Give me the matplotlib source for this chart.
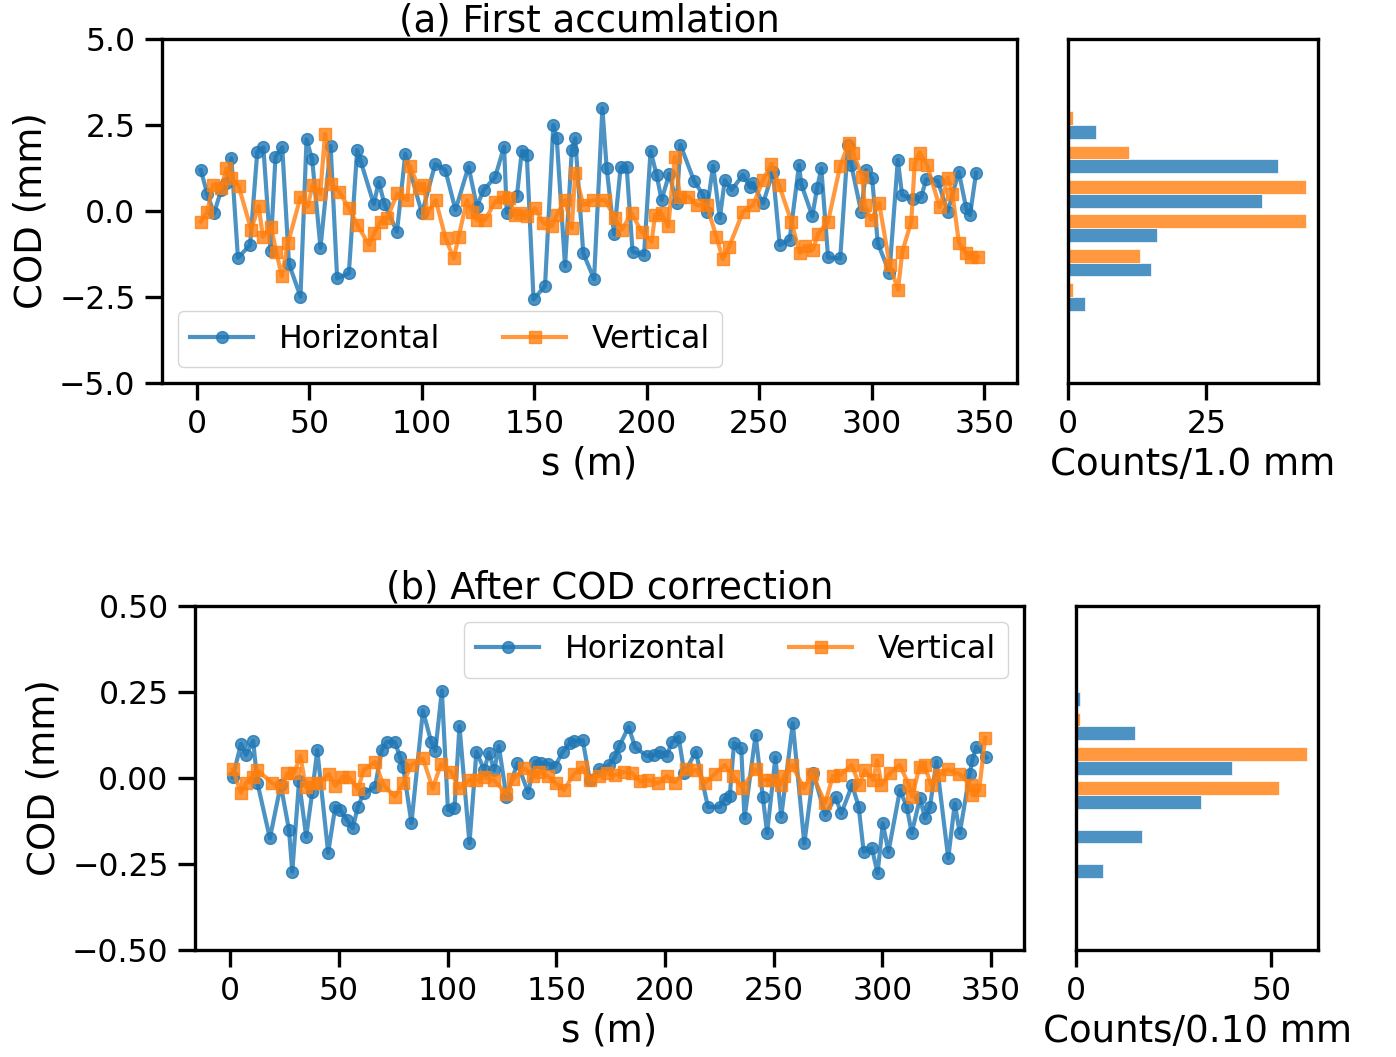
import numpy as np
import matplotlib
matplotlib.use("Agg")
import matplotlib.pyplot as plt

# ---- (a) first accumulation, COD in mm ----
s_h_a = [1.8, 4.7, 7.7, 10.9, 13.1, 15.4, 18.3, 23.7, 26.9, 29.6, 32.8, 35.0, 38.0, 41.0,
         46.1, 48.8, 51.3, 55.0, 59.5, 62.4, 67.6, 71.3, 72.8, 78.7, 80.9, 83.4, 89.0,
         92.7, 100.1, 106.0, 110.5, 115.0, 120.8, 124.5, 127.5, 132.6, 136.6, 137.8,
         142.3, 144.5, 146.7, 149.7, 154.8, 158.5, 160.0, 163.7, 166.7, 168.2, 171.8,
         176.6, 180.3, 182.2, 185.5, 188.4, 191.1, 193.7, 198.8, 201.7, 204.4, 206.6,
         210.0, 213.3, 215.0, 221.0, 225.0, 226.6, 229.5, 232.5, 234.7, 237.7, 242.8,
         245.8, 247.3, 251.7, 256.1, 259.1, 263.5, 267.7, 268.7, 273.6, 275.7, 277.6,
         280.6, 286.0, 289.4, 290.9, 295.3, 297.5, 300.2, 302.7, 307.9, 311.6, 313.5,
         318.2, 322.0, 324.2, 329.3, 333.8, 338.7, 342.0, 343.7, 346.4]
cod_h_a = [1.19, 0.49, -0.07, 0.62, 0.80, 1.53, -1.36, -0.99, 1.72, 1.85, -1.15, 1.58, 1.85, -1.54,
           -2.49, 2.08, 1.50, -1.07, 1.89, -1.96, -1.81, 1.77, 1.46, 0.20, 0.85, 0.20, -0.60,
           1.66, -0.07, 1.37, 1.19, 0.03, 1.29, 0.13, 0.61, 0.98, 1.87, -0.05,
           0.44, 1.75, 1.63, -2.57, -2.18, 2.50, 2.11, -1.60, 1.77, 2.11, -1.23,
           -1.98, 2.99, 1.24, -0.67, 1.27, 1.27, -1.18, -1.28, 1.75, 1.05, 0.32,
           1.08, 0.22, 1.92, 0.88, 0.47, -0.02, 1.31, -0.21, 0.90, 0.61, 1.05,
           0.69, 0.80, 0.22, 1.14, -0.99, -0.84, 1.34, 0.78, -0.15, 0.66, 1.24,
           -1.35, -1.38, 1.92, 1.34, -0.02, 1.19, 0.95, -0.94, -1.79, 1.48, 0.47,
           0.34, 0.40, 0.92, 0.88, -0.02, 1.14, 0.08, -0.12, 1.11]

s_v_a = [1.8, 4.7, 7.2, 10.9, 13.1, 15.4, 18.6, 24.2, 27.5, 29.4, 33.1, 35.3, 37.8, 40.5,
         46.1, 49.3, 51.5, 54.9, 57.0, 59.6, 63.3, 67.7, 71.4, 76.6, 78.8, 81.7, 84.7,
         89.1, 93.6, 94.8, 98.8, 101.0, 102.5, 106.2, 110.6, 114.2, 116.4, 120.1, 122.3,
         124.5, 128.2, 132.6, 136.3, 138.6, 141.5, 143.7, 147.0, 150.4, 154.1, 157.8,
         160.0, 163.7, 166.7, 168.2, 171.8, 176.3, 181.5, 185.9, 188.9, 193.3, 197.7,
         202.2, 203.7, 206.6, 209.6, 212.5, 214.8, 218.5, 222.2, 226.6, 231.0, 233.8,
         236.5, 242.8, 247.3, 251.7, 255.4, 258.8, 264.3, 268.0, 270.2, 273.9, 276.1,
         280.6, 286.0, 289.9, 291.7, 295.8, 296.9, 299.8, 303.3, 308.0, 311.7, 313.6,
         317.6, 319.1, 321.3, 324.6, 330.2, 333.9, 335.9, 338.8, 342.1, 344.3, 347.3]
cod_v_a = [-0.31, -0.02, 0.76, 0.66, 1.24, 0.95, 0.73, -0.55, 0.15, -0.75, -0.47, -1.18, -1.89, -0.94,
           0.40, 0.13, 0.76, 0.49, 2.24, 0.78, 0.56, 0.08, -0.41, -0.99, -0.65, -0.31, -0.21,
           0.51, 0.32, 1.31, 0.66, 0.76, -0.07, 0.32, -0.79, -1.38, -0.75, 0.32, -0.02,
           -0.26, -0.26, 0.27, 0.40, 0.37, -0.11, -0.07, -0.16, 0.08, -0.36, -0.45,
           -0.11, 0.32, -0.50, 1.11, 0.17, 0.32, 0.32, -0.21, -0.55, -0.07, -0.60,
           -0.89, -0.11, -0.07, -0.45, 1.58, 0.42, 0.42, 0.17, 0.17, -0.75, -1.40,
           -1.06, -0.02, 0.17, 0.90, 1.37, 0.76, -0.31, -1.23, -1.02, -1.13, -0.67,
           -0.31, 1.31, 1.99, 1.70, 1.00, 0.17, -0.26, 0.23, -1.57, -2.29, -1.18,
           -0.31, 1.37, 1.70, 1.34, 0.12, 0.97, 0.49, -0.94, -1.23, -1.33, -1.33]

# ---- (b) after COD correction ----
s_h_b = [1.2, 5.0, 7.3, 10.6, 12.6, 18.3, 23.3, 27.1, 28.6, 31.7, 35.0, 37.8, 40.1, 45.1,
         48.4, 50.7, 53.8, 56.4, 58.8, 61.4, 66.7, 69.7, 72.0, 75.8, 78.1, 79.6, 83.4,
         88.7, 92.5, 94.4, 97.4, 100.2, 103.2, 105.5, 110.1, 113.3, 116.9, 119.0, 121.5,
         123.6, 127.1, 132.1, 137.1, 140.2, 143.2, 146.3, 149.3, 153.1, 156.2, 158.4,
         162.2, 165.4, 169.6, 174.2, 176.9, 179.0, 183.3, 186.3, 191.8, 194.9, 197.9,
         200.9, 203.2, 206.3, 208.9, 214.2, 219.8, 225.2, 227.5, 229.8, 231.8, 235.1,
         236.6, 241.7, 245.0, 247.0, 250.8, 253.5, 258.8, 264.1, 268.3, 273.7, 278.5,
         281.1, 286.1, 289.1, 291.4, 295.2, 297.8, 300.2, 302.8, 308.1, 311.2, 313.5,
         317.3, 319.6, 321.9, 324.9, 330.3, 333.3, 335.6, 340.2, 341.4, 343.2, 347.8]
cod_h_b = [0.002, 0.099, 0.067, 0.108, -0.015, -0.175, -0.020, -0.151, -0.272, -0.010, -0.170, -0.040, 0.081, -0.217,
           -0.083, -0.093, -0.122, -0.146, -0.083, -0.044, -0.025, 0.081, 0.105, 0.105, 0.062, 0.033, -0.131,
           0.196, 0.105, 0.079, 0.254, -0.093, -0.088, 0.151, -0.190, 0.077, 0.023, 0.074, 0.023,
           0.093, -0.054, 0.043, -0.042, 0.047, 0.044, 0.042, 0.033, 0.077, 0.101, 0.108,
           0.110, -0.005, 0.025, 0.038, 0.060, 0.093, 0.149, 0.089, 0.064, 0.067, 0.077,
           0.064, 0.105, 0.120, 0.014, 0.077, -0.084, -0.084, -0.060, -0.053, 0.102, 0.086,
           -0.117, 0.125, -0.054, -0.160, 0.060, -0.112, 0.159, -0.190, 0.014, -0.107, -0.056,
           -0.103, -0.020, -0.083, -0.214, -0.204, -0.277, -0.132, -0.214, -0.035, -0.083, -0.160,
           -0.059, -0.117, -0.083, 0.048, -0.233, -0.074, -0.160, 0.013, 0.052, 0.091, 0.060]

s_v_b = [1.2, 5.0, 7.3, 10.4, 12.6, 19.4, 23.7, 26.3, 29.4, 32.4, 34.7, 37.8, 40.8, 45.4,
         48.4, 51.5, 54.8, 58.8, 61.4, 66.7, 70.5, 75.8, 79.6, 83.4, 88.7, 93.2, 97.0,
         101.6, 105.5, 110.1, 113.0, 116.9, 121.4, 127.1, 130.1, 135.4, 139.2, 142.2, 146.0,
         149.8, 153.6, 158.1, 161.9, 165.7, 169.5, 173.3, 177.1, 181.0, 184.8, 188.6,
         192.4, 197.0, 200.8, 204.6, 209.9, 214.5, 218.3, 222.9, 227.5, 231.3, 235.5,
         241.7, 245.5, 249.3, 253.2, 254.7, 258.5, 263.9, 267.7, 273.7, 277.2, 280.6,
         285.9, 289.4, 292.0, 295.8, 297.6, 299.6, 303.4, 308.0, 312.2, 313.7, 317.1,
         319.4, 322.4, 326.2, 330.0, 335.4, 340.7, 341.4, 344.5, 347.3]
cod_v_b = [0.025, -0.043, -0.015, 0.004, 0.023, -0.015, -0.027, 0.014, 0.014, 0.064, -0.025, -0.013, -0.015, 0.012,
           -0.023, 0.004, 0.002, -0.033, 0.023, 0.047, -0.020, -0.054, -0.015, 0.038, 0.057, -0.030, 0.041,
           0.018, -0.030, -0.006, -0.006, 0.002, -0.006, -0.046, -0.004, 0.028, 0.006, 0.018, 0.006,
           -0.015, -0.035, 0.012, 0.031, -0.006, 0.006, 0.014, 0.009, 0.018, 0.014, -0.010,
           -0.006, -0.015, 0.006, -0.013, 0.025, 0.023, -0.015, 0.012, 0.038, 0.006, -0.028,
           0.026, -0.006, -0.006, -0.020, 0.006, 0.038, -0.030, 0.012, -0.073, 0.006, 0.009,
           0.038, -0.020, 0.023, -0.006, 0.052, -0.020, 0.014, 0.038, -0.020, -0.054, 0.033,
           0.038, -0.020, 0.009, 0.025, 0.012, -0.020, -0.049, -0.036, 0.117]

# histogram counts, bins listed low -> high
edges_a = [-3.0, -2.0, -1.0, 0.0, 1.0, 2.0, 3.0]
counts_h_a = [3, 15, 16, 35, 38, 5]
counts_v_a = [1, 13, 43, 43, 11, 1]
edges_b = [-0.3, -0.2, -0.1, 0.0, 0.1, 0.2, 0.3]
counts_h_b = [7, 17, 32, 40, 15, 1]
counts_v_b = [0, 0, 52, 59, 1, 0]

plt.rcParams.update({
    "font.family": "DejaVu Sans",
    "font.size": 22.7,
    "axes.labelsize": 26.7,
    "axes.titlesize": 26.7,
    "axes.labelpad": 7,
    "xtick.labelsize": 22.7,
    "ytick.labelsize": 22.7,
    "legend.fontsize": 22.7,
    "axes.linewidth": 2.4,
    "xtick.major.width": 2.4,
    "ytick.major.width": 2.4,
    "xtick.major.size": 12,
    "ytick.major.size": 12,
    "xtick.major.pad": 7,
    "ytick.major.pad": 7,
    "lines.linewidth": 3.0,
    "lines.markersize": 8.5,
})


def side_hist(ax, edges, counts_h, counts_v, xlabel):
    edges = np.asarray(edges)
    w = np.diff(edges)
    lo = edges[:-1]
    ax.barh(lo + 0.3 * w, counts_h, height=0.4 * w, color="C0", alpha=0.8,
            edgecolor="white", linewidth=0.6)
    ax.barh(lo + 0.7 * w, counts_v, height=0.4 * w, color="C1", alpha=0.8,
            edgecolor="white", linewidth=0.6)
    ax.tick_params(axis="y", left=False, labelleft=False)
    ax.set_xlabel(xlabel, labelpad=4)


def cod_panel(ax, sh, ch, sv, cv, title, legend_loc):
    ax.plot(sh, ch, marker="o", color="C0", alpha=0.8, label="Horizontal")
    ax.plot(sv, cv, marker="s", color="C1", alpha=0.8, label="Vertical")
    ax.set_xlabel("s (m)", labelpad=4)
    ax.set_ylabel("COD (mm)")
    ax.set_title(title, pad=4)
    ax.legend(loc=legend_loc, ncol=2)


fig = plt.figure(figsize=(13.96, 10.57), dpi=100)

ax_a = fig.add_axes([0.1160, 0.6377, 0.6125, 0.3254])
ax_ah = fig.add_axes([0.7650, 0.6377, 0.1791, 0.3254])
ax_b = fig.add_axes([0.1397, 0.1012, 0.5938, 0.3254])
ax_bh = fig.add_axes([0.7708, 0.1012, 0.1734, 0.3254])

cod_panel(ax_a, s_h_a, cod_h_a, s_v_a, cod_v_a, "(a) First accumlation", "lower left")
ax_a.set_ylim(-5, 5)
ax_a.set_yticks([-5.0, -2.5, 0.0, 2.5, 5.0])
side_hist(ax_ah, edges_a, counts_h_a, counts_v_a, "Counts/1.0 mm")
ax_ah.set_ylim(-5, 5)
ax_ah.set_xticks([0, 25])

cod_panel(ax_b, s_h_b, cod_h_b, s_v_b, cod_v_b, "(b) After COD correction", "upper right")
ax_b.set_ylim(-0.5, 0.5)
ax_b.set_yticks([-0.50, -0.25, 0.00, 0.25, 0.50])
side_hist(ax_bh, edges_b, counts_h_b, counts_v_b, "Counts/0.10 mm")
ax_bh.set_ylim(-0.5, 0.5)
ax_bh.set_xticks([0, 50])

fig.savefig("out.png", dpi=100)
